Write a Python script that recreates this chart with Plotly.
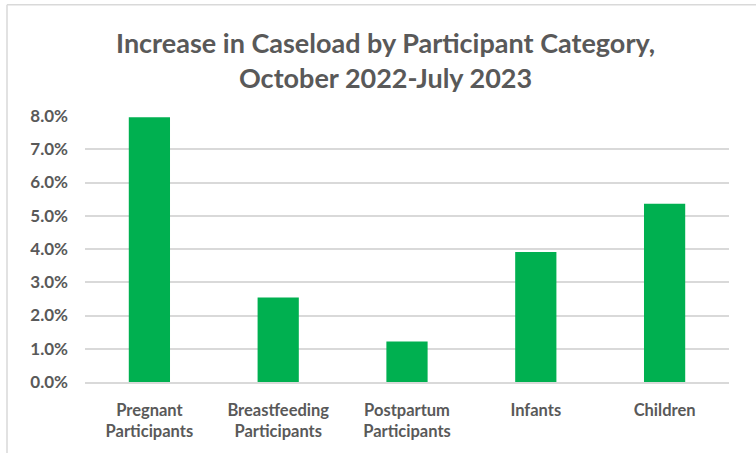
import plotly.graph_objects as go

categories = ["Pregnant<br>Participants", "Breastfeeding<br>Participants",
              "Postpartum<br>Participants", "Infants", "Children"]
values = [0.0796, 0.0254, 0.0122, 0.0391, 0.0536]
y_ticks = [0, 0.01, 0.02, 0.03, 0.04, 0.05, 0.06, 0.07, 0.08]

grey = "#595959"
font_family = "Lato, 'Open Sans', sans-serif"

fig = go.Figure(go.Bar(x=categories, y=values, marker_color="#00B050",
                       marker_line_width=0, width=0.32))

fig.update_layout(
    width=756, height=453,
    margin=dict(l=85, r=27, t=116, b=69),
    paper_bgcolor="white", plot_bgcolor="white",
    title=dict(text="<b>Increase in Caseload by Participant Category,<br>October 2022-July 2023</b>",
               x=0.51, xanchor="center", y=0.884, yanchor="middle",
               font=dict(family=font_family, size=27, color=grey)),
    font=dict(family=font_family, color=grey),
    showlegend=False,
)
fig.update_yaxes(range=[0, 0.08], tickvals=y_ticks, tickformat=".1%",
                 showgrid=True, gridcolor="#D9D9D9", gridwidth=1.5,
                 zeroline=False, showline=False, ticks="",
                 tickfont=dict(family=font_family, size=17, color=grey, weight="bold"),
                 ticklabelstandoff=16)
fig.update_xaxes(showline=True, linecolor="#D9D9D9", linewidth=1.5, ticks="",
                 tickfont=dict(family=font_family, size=16.5, color=grey, weight="bold"),
                 ticklabelstandoff=12)
# chart-area border: only left and top edges visible in the reference crop
bx = (7 - 85) / 644
by = (384 - 4) / 268
fig.add_shape(type="line", xref="paper", yref="paper", x0=bx, x1=bx, y0=by, y1=-0.3,
              line=dict(color="#D9D9D9", width=1.5))
fig.add_shape(type="line", xref="paper", yref="paper", x0=bx, x1=1.1, y0=by, y1=by,
              line=dict(color="#D9D9D9", width=1.5))

fig.write_html("out.html")
